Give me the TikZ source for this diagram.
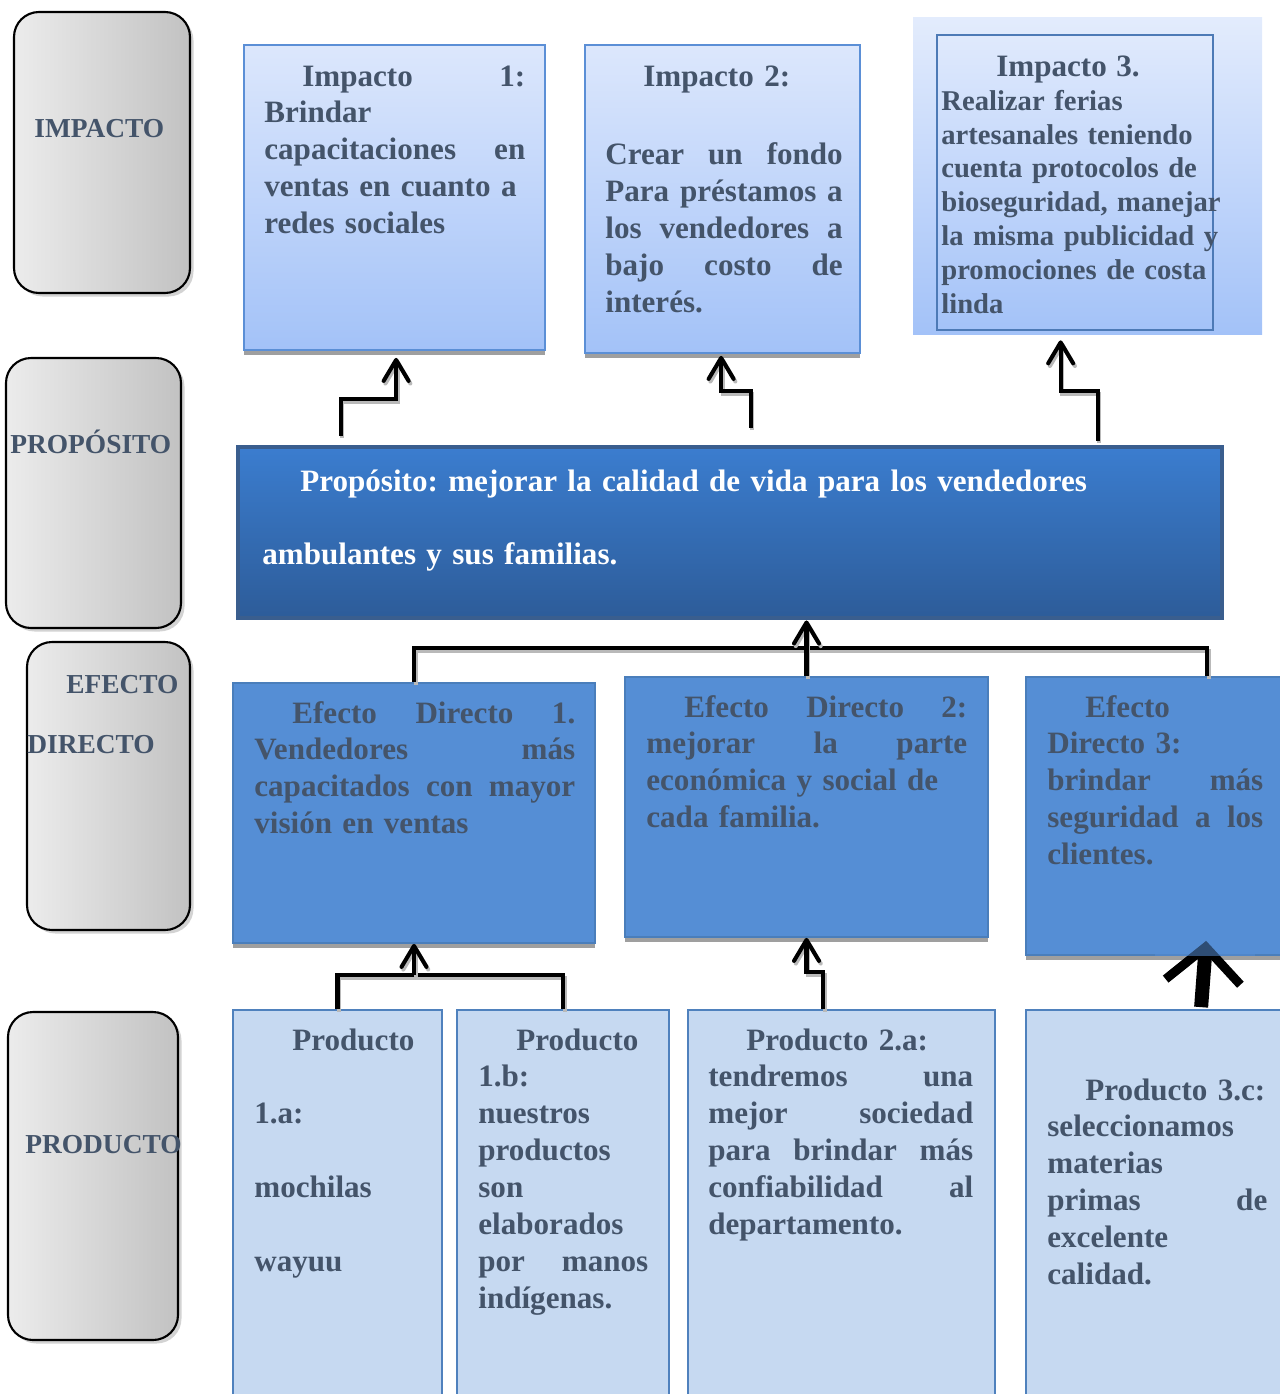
\documentclass[tikz,border=0pt]{standalone}
\usepackage{fontspec}
\setmainfont{Liberation Serif}
\usetikzlibrary{fit,calc,positioning,shadows,arrows.meta}
\definecolor{txtGray}{HTML}{44546A}
\definecolor{impTop}{HTML}{DCE7FC}
\definecolor{impBot}{HTML}{A3C2F8}
\definecolor{impLine}{HTML}{5B8FD6}
\definecolor{propTop}{HTML}{3B7DCF}
\definecolor{propBot}{HTML}{2D5C99}
\definecolor{propLine}{HTML}{3A5E8E}
\definecolor{efFill}{HTML}{558ED5}
\definecolor{efLine}{HTML}{4A7EBB}
\definecolor{prFill}{HTML}{C6D9F1}
\definecolor{prLine}{HTML}{4F81BD}
\newcommand{\sangria}{\hspace*{0.76cm}}
\frenchspacing

\tikzset{
  sidebox/.style={draw=black, line width=1.2pt, rounded corners=0.5cm, inner sep=0pt,
    left color=gray!15, right color=gray!48, drop shadow={opacity=0.35, shadow xshift=2pt, shadow yshift=-2pt}},
  sidetxt/.style={anchor=base west, inner sep=0pt, text=txtGray, font=\fontsize{15.6}{18}\selectfont\bfseries},
  impbox/.style={draw=impLine, line width=1pt, inner sep=0pt, top color=impTop, bottom color=impBot,
    drop shadow={fill=gray!75, opacity=1, shadow xshift=0pt, shadow yshift=-2.6pt}},
  propbox/.style={draw=propLine, line width=2.8pt, inner sep=0pt, top color=propTop, bottom color=propBot},
  efbox/.style={draw=efLine, line width=1pt, inner sep=0pt, fill=efFill,
    drop shadow={fill=gray!75, opacity=1, shadow xshift=0pt, shadow yshift=-2.6pt}},
  prbox/.style={draw=prLine, line width=1pt, inner sep=0pt, fill=prFill},
  boxtxt/.style={anchor=base west, inner sep=0pt, align=left, text=txtGray,
    font=\fontsize{17.7}{21.05}\selectfont\bfseries\frenchspacing},
  conn/.style={line width=2.3pt,
    preaction={draw=gray!55, line width=2.3pt, transform canvas={xshift=1pt, yshift=-1.5pt}}},
  arr/.style={conn, -{Straight Barb[length=0.42cm, width=0.5cm, round]}},
  bigarr/.style={line width=0.28cm, -{Straight Barb[length=0.7cm, width=1.5cm, line width=0.18cm]}}
}

\begin{document}
\begin{tikzpicture}[x=0.02cm, y=-0.02cm]
\useasboundingbox (0,0) rectangle (1280,1394);
\clip (0,0) rectangle (1280,1394);

% side labels
\node[sidebox, fit={(14,12) (190,293)}] (sImp) {};
\node[sidebox, fit={(6,358) (181,628)}] (sProp) {};
\node[sidebox, fit={(27,642) (190,930)}] (sEf) {};
\node[sidebox, fit={(8,1012) (178,1340)}] (sProd) {};
\node[sidetxt] (lImp) at (34,137) {IMPACTO};
\node[sidetxt] (lProp) at (10,453) {PROPÓSITO};
\node[sidetxt] (lEf) at (66,693) {EFECTO};
\node[sidetxt] (lDir) at (27,753) {DIRECTO};
\node[sidetxt] (lProd) at (25,1153) {PRODUCTO};

% impactos
\node[impbox, fit={(244,45) (545,350)}] (imp1) {};
\node[impbox, fit={(585,45) (860,353)}] (imp2) {};
\node[inner sep=0pt, top color=impTop!80!white, bottom color=impBot, fit={(913,17) (1262,334)}] (imp3) {};
\node[draw=impLine!85!black, line width=1pt, inner sep=0pt, fit={(937,35) (1213,330)}] (imp3in) {};

\node[boxtxt, text width=5.22cm] (tImp1) at (264,86)
  {\sangria Impacto\hfill 1:\\
   Brindar\\
   capacitaciones\hfill en\\
   ventas en cuanto a\\
   redes sociales};
\node[boxtxt, text width=4.75cm] (tImp2) at (605,86)
  {\sangria Impacto 2:\\[0.84cm]
   Crear\hfill un\hfill fondo\\
   Para\hfill préstamos\hfill a\\
   los\hfill vendedores\hfill a\\
   bajo\hfill costo\hfill de\\
   interés.};
\node[boxtxt, text width=7cm, font=\fontsize{16.3}{19.35}\selectfont\bfseries\frenchspacing] (tImp3) at (941,76)
  {\hspace*{1.1cm}{\fontsize{17.7}{19.35}\selectfont Impacto 3.}\\
   Realizar ferias\\
   artesanales teniendo\\
   cuenta protocolos de\\
   bioseguridad, manejar\\
   la misma publicidad y\\
   promociones de costa\\
   linda};

% proposito
\node[propbox, fit={(238,447) (1222,618)}] (prop) {};
\node[boxtxt, text=white, text width=20cm] (tProp) at (262,491)
  {\sangria Propósito: mejorar la calidad de vida para los vendedores\\[0.74cm]
   ambulantes y sus familias.};

% efectos directos
\node[efbox, fit={(233,683) (595,943)}] (e1) {};
\node[efbox, fit={(625,677) (988,937)}] (e2) {};
\node[efbox, fit={(1026,677) (1292,955)}] (e3) {};
\node[boxtxt, text width=6.42cm] (tE1) at (254,723)
  {\sangria Efecto\hfill Directo\hfill 1.\\
   Vendedores\hfill más\\
   capacitados\hfill con\hfill mayor\\
   visión en ventas};
\node[boxtxt, text width=6.42cm] (tE2) at (646,717)
  {\sangria Efecto\hfill Directo\hfill 2:\\
   mejorar\hfill la\hfill parte\\
   económica y social de\\
   cada familia.};
\node[boxtxt, text width=4.32cm] (tE3) at (1047,717)
  {\sangria Efecto\\
   Directo 3:\\
   brindar\hfill más\\
   seguridad\hfill a\hfill los\\
   clientes.};

% productos
\node[prbox, fit={(233,1010) (442,1404)}] (p1a) {};
\node[prbox, fit={(457,1010) (669,1404)}] (p1b) {};
\node[prbox, fit={(688,1010) (995,1404)}] (p2a) {};
\node[prbox, fit={(1026,1010) (1292,1404)}] (p3c) {};
\node[boxtxt, text width=3.8cm] (tP1a) at (254,1050)
  {\sangria Producto\\[0.74cm]
   1.a:\\[0.74cm]
   mochilas\\[0.74cm]
   wayuu};
\node[boxtxt, text width=3.4cm] (tP1b) at (478,1050)
  {\sangria Producto\\
   1.b:\\
   nuestros\\
   productos\\
   son\\
   elaborados\\
   por\hfill manos\\
   indígenas.};
\node[boxtxt, text width=5.3cm] (tP2a) at (708,1050)
  {\sangria Producto 2.a:\\
   tendremos\hfill una\\
   mejor\hfill sociedad\\
   para\hfill brindar\hfill más\\
   confiabilidad\hfill al\\
   departamento.};
\node[boxtxt, text width=4.4cm] (tP3c) at (1047,1100)
  {\sangria Producto 3.c:\\
   seleccionamos\\
   materias\\
   primas\hfill de\\
   excelente\\
   calidad.};

% conectores
\draw[arr] ($(prop.north west)+(105,-9)$) |- ($(imp1.south west)+(153,48)$) -- ($(imp1.south west)+(153,7)$);
\draw[arr] ($(prop.north west)+(515,-17)$) |- ($(imp2.south west)+(137,37)$) -- ($(imp2.south west)+(137,2)$);
\draw[arr] ($(prop.north west)+(862,-4)$) |- ($(imp3.south west)+(148,57)$) -- ($(imp3.south west)+(148,6)$);

\coordinate (jE) at (807,648);
\draw[conn] (e1.north) |- (jE) -| ($(e3.north west)+(182,0)$);
\draw[arr] (e2.north) -- (prop.south -| e2.north);

\coordinate (jP) at (414,975);
\draw[conn] (p1a.north) |- (jP) -| (p1b.north);
\draw[arr] (jP) -- (e1.south);
\draw[arr] ($(p2a.north west)+(136,0)$) |- ($(e2.south)+(0,34)$) -- (e2.south);

\draw[bigarr] ($(p3c.north west)+(176,-2)$) -- ($(e3.south west)+(181,-15)$);
\fill[efFill, opacity=0.55] ($(e3.south west)+(130,-30)$) rectangle ($(e3.south west)+(230,0)$);
\end{tikzpicture}
\end{document}
